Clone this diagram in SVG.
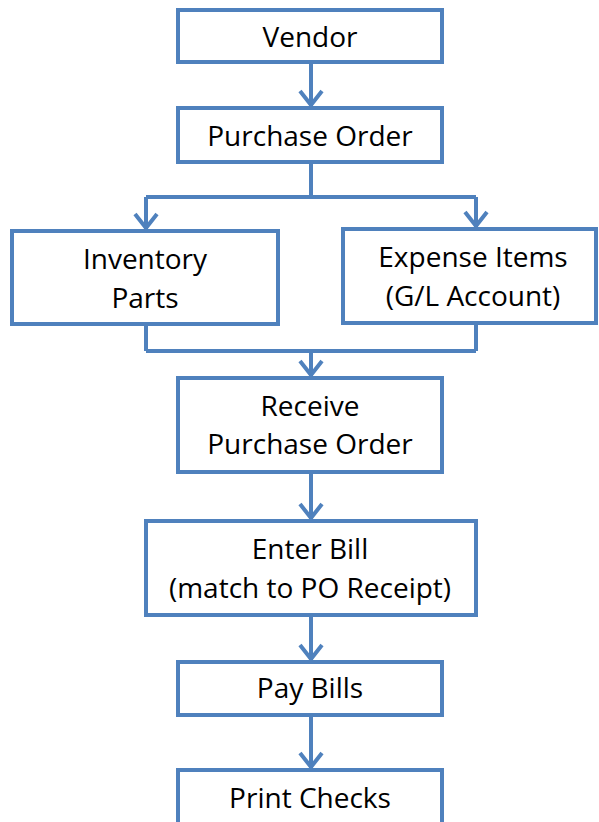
<svg xmlns="http://www.w3.org/2000/svg" width="599" height="822" viewBox="0 0 599 822">
<style>
.box{fill:#ffffff;stroke:#4f81bd;stroke-width:4}
.ln{fill:none;stroke:#4f81bd;stroke-width:4}
.hd{fill:none;stroke:#4f81bd;stroke-width:4;stroke-linejoin:miter}
text{font-family:"Open Sans","DejaVu Sans",sans-serif;font-size:28px;fill:#000;text-anchor:middle}
</style>
<rect width="599" height="822" fill="#ffffff"/>
<g id="connectors">
<path class="ln" d="M311,62 V106"/><path class="hd" d="M300,91 L311,105 L322,91"/>
<path class="ln" d="M311,162 V197 M146,197 H476 M146,197 V229 M476,197 V227"/>
<path class="hd" d="M135,214 L146,228 L157,214"/>
<path class="hd" d="M465,212 L476,226 L487,212"/>
<path class="ln" d="M146,324 V351 M476,323 V351 M146,351 H476 M311,351 V376"/>
<path class="hd" d="M300,361 L311,375 L322,361"/>
<path class="ln" d="M311,472 V519"/><path class="hd" d="M300,504 L311,518 L322,504"/>
<path class="ln" d="M311,615 V660"/><path class="hd" d="M300,645 L311,659 L322,645"/>
<path class="ln" d="M311,715 V768"/><path class="hd" d="M300,753 L311,767 L322,753"/>
</g>
<g id="vendor"><rect class="box" x="178" y="10" width="264" height="52"/><text x="310" y="47">Vendor</text></g>
<g id="purchase-order"><rect class="box" x="178" y="108" width="264" height="54"/><text x="310" y="146">Purchase Order</text></g>
<g id="inventory-parts"><rect class="box" x="12" y="231" width="266" height="93"/><text x="145" y="269">Inventory</text><text x="145" y="308">Parts</text></g>
<g id="expense-items"><rect class="box" x="343" y="229" width="253" height="94"/><text x="473" y="267">Expense Items</text><text x="473" y="306">(G/L Account)</text></g>
<g id="receive-po"><rect class="box" x="178" y="378" width="264" height="94"/><text x="310" y="416">Receive</text><text x="310" y="454">Purchase Order</text></g>
<g id="enter-bill"><rect class="box" x="146" y="521" width="330" height="94"/><text x="310" y="559">Enter Bill</text><text x="310" y="598">(match to PO Receipt)</text></g>
<g id="pay-bills"><rect class="box" x="178" y="662" width="264" height="53"/><text x="310" y="698">Pay Bills</text></g>
<g id="print-checks"><rect class="box" x="178" y="770" width="264" height="64"/><text x="310" y="808">Print Checks</text></g>
</svg>
